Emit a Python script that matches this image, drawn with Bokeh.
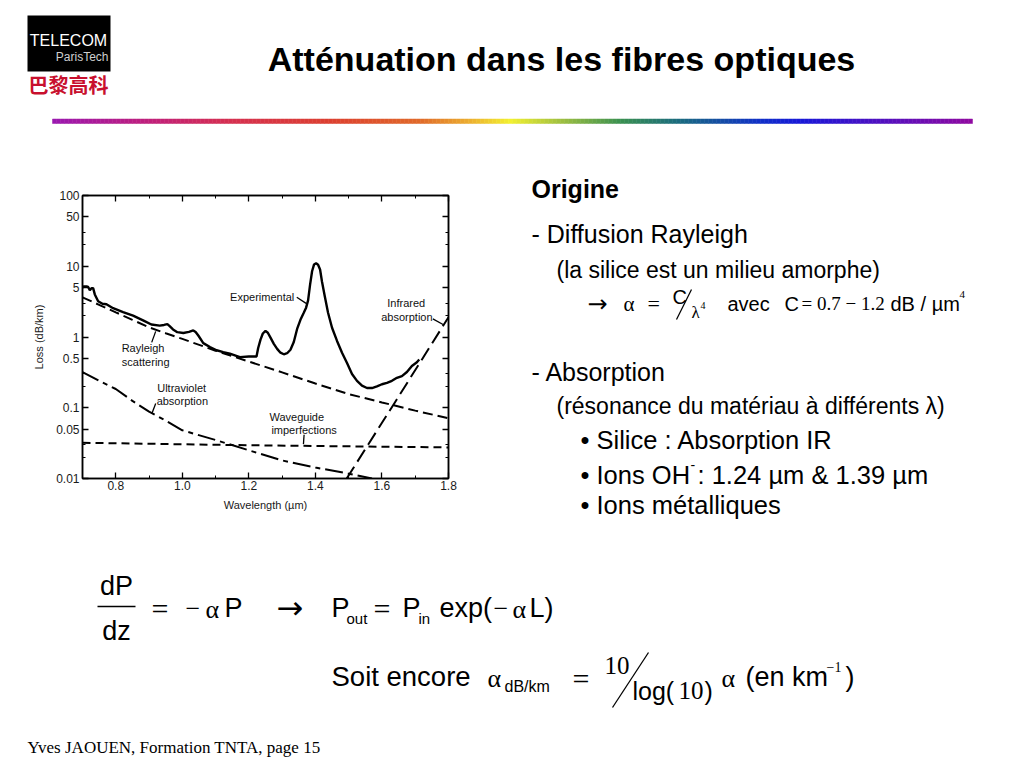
from bokeh.plotting import figure
from bokeh.layouts import column, row
from bokeh.models import (Range1d, FixedTicker, LogAxis, LinearAxis,
                          CustomJSTickFormatter)
from bokeh.core.properties import value
from bokeh.embed import file_html
from bokeh.resources import INLINE

# ---------------- data ----------------
exp_x = [0.700, 0.705, 0.712, 0.717, 0.722, 0.727, 0.732, 0.737, 0.747, 0.760,
         0.772, 0.792, 0.822, 0.852, 0.882, 0.907, 0.932, 0.945, 0.955, 0.962,
         0.972, 0.985, 1.003, 1.020, 1.033, 1.040, 1.048, 1.063, 1.083, 1.103,
         1.123, 1.143, 1.173, 1.200, 1.223, 1.228, 1.235, 1.242, 1.250, 1.257,
         1.265, 1.275, 1.285, 1.295, 1.305, 1.315, 1.325, 1.335, 1.345, 1.355,
         1.365, 1.372, 1.378, 1.384, 1.390, 1.396, 1.402, 1.408, 1.414, 1.420,
         1.428, 1.438, 1.450, 1.465, 1.480, 1.495, 1.510, 1.525, 1.540, 1.555,
         1.570, 1.585, 1.600, 1.615, 1.630, 1.645, 1.660, 1.675, 1.690, 1.705,
         1.712]
exp_y = [5.0, 5.2, 5.2, 5.1, 4.6, 4.9, 4.9, 4.0, 3.2, 2.95,
         2.9, 2.55, 2.25, 2.0, 1.72, 1.5, 1.45, 1.48, 1.52, 1.42,
         1.28, 1.17, 1.14, 1.18, 1.24, 1.18, 1.05, 0.82, 0.72, 0.65,
         0.61, 0.58, 0.52, 0.53, 0.53, 0.70, 0.92, 1.12, 1.22, 1.15,
         0.98, 0.80, 0.68, 0.60, 0.57, 0.59, 0.66, 0.85, 1.3, 1.75,
         2.2, 2.6, 3.3, 5.5, 8.5, 10.6, 11.0, 10.5, 9.0, 6.0,
         3.8, 2.2, 1.35, 0.88, 0.60, 0.43, 0.30, 0.24, 0.205, 0.19,
         0.19, 0.20, 0.215, 0.225, 0.24, 0.265, 0.28, 0.32, 0.39, 0.44,
         0.48]

ray_x = [0.70, 0.75, 0.80, 0.85, 0.90, 0.95, 1.00, 1.10, 1.20, 1.30, 1.40, 1.50, 1.60, 1.70, 1.80]
ray_y = [3.64, 2.85, 2.23, 1.75, 1.37, 1.13, 0.94, 0.64, 0.45, 0.316, 0.22, 0.156, 0.119, 0.091, 0.071]

uv_x = [0.70, 0.75, 0.80, 0.85, 0.90, 0.95, 1.00, 1.10, 1.20, 1.30, 1.40, 1.50, 1.57]
uv_y = [0.32, 0.24, 0.184, 0.125, 0.088, 0.066, 0.048, 0.035, 0.025, 0.018, 0.0143, 0.0117, 0.010]

wg_x = [0.70, 1.20, 1.80]
wg_y = [0.032, 0.0295, 0.0275]

ir_x = [1.494, 1.644, 1.80]
ir_y = [0.010, 0.13, 1.9]

x_ticks = [0.8, 1.0, 1.2, 1.4, 1.6, 1.8]
x_minor = [0.7, 0.9, 1.1, 1.3, 1.5, 1.7]
y_ticks = [0.01, 0.05, 0.1, 0.5, 1, 5, 10, 50, 100]
y_minor = [0.02, 0.03, 0.2, 0.3, 2, 3, 20, 30]

curve_labels = [("Experimental", 1.240, 3.64),
                ("Infrared", 1.673, 2.99), ("absorption", 1.675, 1.94),
                ("Rayleigh", 0.882, 0.69), ("scattering", 0.890, 0.448),
                ("Ultraviolet", 0.998, 0.19), ("absorption", 1.000, 0.123),
                ("Waveguide", 1.344, 0.0731), ("imperfections", 1.366, 0.048)]
leaders = [([1.344, 1.372], [3.64, 2.99]),
           ([1.753, 1.785], [1.80, 1.49]),
           ([0.920, 0.908], [1.20, 0.84]),
           ([0.920, 0.908], [0.115, 0.0814]),
           ([1.366, 1.364], [0.0415, 0.0306])]

title_text = "Atténuation dans les fibres optiques"
footer_text = "Yves JAOUEN, Formation TNTA, page  15"

# ---------------- layout geometry (page pixels) ----------------
W = 1008
HEAD_H = 170
MID_H = 360
FOOT_H = 230
CHART_W = 520
FL, FR, FT, FB = 82, 448, 195, 478   # chart frame edges on the page

SANS = "Liberation Sans"
SERIF = "Liberation Serif"
SYM = "DejaVu Sans"


def canvas(width, height, x0, y0):
    f = figure(width=width, height=height,
               x_range=Range1d(x0, x0 + width), y_range=Range1d(y0 + height, y0),
               x_axis_location=None, y_axis_location=None,
               output_backend="svg", toolbar_location=None, min_border=0,
               frame_align=False)
    f.grid.visible = False
    f.outline_line_color = None
    f.background_fill_color = "white"
    f.border_fill_color = "white"
    return f


def t(f, X, Y, text, size, font=SANS, style="normal", color="black", align="left"):
    f.text(x=[X], y=[Y], text=[text], text_font=value(font),
           text_font_size=f"{size}px", text_font_style=style,
           text_color=color, text_align=align, text_baseline="middle")


def seg(f, x0, y0, x1, y1, w=1.5):
    f.segment(x0=[x0], y0=[y0], x1=[x1], y1=[y1], line_color="black", line_width=w)


# ---------------- header ----------------
head = canvas(W, HEAD_H, 0, 0)
head.quad(left=[27], right=[110], top=[15], bottom=[71], fill_color="black", line_color=None)
t(head, 68, 40, "TELECOM", 16, color="white", align="center")
t(head, 108, 56, "ParisTech", 12, color="#cfcfcf", align="right")
t(head, 68, 84, "巴黎高科", 20, font="Noto Sans CJK SC", style="bold", color="#c8102e", align="center")
t(head, 561, 58, title_text, 34, style="bold", align="center")

stops = [(52, (154, 24, 176)), (150, (192, 32, 122)), (230, (213, 48, 80)),
         (330, (220, 64, 48)), (420, (224, 106, 42)), (470, (236, 176, 48)),
         (510, (242, 240, 48)), (560, (160, 192, 64)), (620, (58, 144, 80)),
         (680, (26, 106, 128)), (760, (16, 48, 200)), (800, (24, 24, 216)),
         (880, (80, 16, 192)), (972, (144, 10, 160))]


def interp(xp):
    for (a, ca), (b, cb) in zip(stops[:-1], stops[1:]):
        if a <= xp <= b:
            k = (xp - a) / (b - a)
            return "#%02x%02x%02x" % tuple(int(round(ca[i] + (cb[i] - ca[i]) * k)) for i in range(3))
    return "#%02x%02x%02x" % stops[-1][1]


rl, rr, rc = [], [], []
xx = 52
while xx < 972:
    rl.append(xx)
    rr.append(min(xx + 4, 972))
    rc.append(interp(xx + 2))
    xx += 4
head.quad(left=rl, right=rr, top=118.5, bottom=123, fill_color=rc, line_color=rc, line_width=0.5)

# ---------------- chart ----------------
p = figure(width=CHART_W, height=MID_H, y_axis_type="log",
           x_range=Range1d(0.7, 1.8), y_range=Range1d(0.01, 100),
           output_backend="svg", toolbar_location=None, frame_align=False,
           min_border_left=FL, min_border_right=CHART_W - FR,
           min_border_top=FT - HEAD_H, min_border_bottom=HEAD_H + MID_H - FB)
p.grid.visible = False
p.outline_line_color = "black"
p.outline_line_width = 1.5
p.background_fill_color = "white"
p.border_fill_color = "white"

fmt_x = CustomJSTickFormatter(code="return tick.toFixed(1);")
fmt_y = CustomJSTickFormatter(code="return String(Number(tick.toPrecision(4)));")
blank = CustomJSTickFormatter(code="return '';")


def style_axis(ax):
    ax.major_tick_in = 6
    ax.major_tick_out = 0
    ax.minor_tick_in = 3
    ax.minor_tick_out = 0
    ax.axis_line_color = "black"
    ax.axis_line_width = 1.5
    ax.major_tick_line_width = 1.3
    ax.major_label_text_font = SANS
    ax.major_label_text_font_size = "12px"
    ax.major_label_text_color = "#1a1a1a"
    ax.axis_label_text_font = SANS
    ax.axis_label_text_font_size = "11px"
    ax.axis_label_text_font_style = "normal"
    ax.axis_label_text_color = "#1a1a1a"


xa = p.xaxis[0]
xa.ticker = FixedTicker(ticks=x_ticks, minor_ticks=x_minor)
xa.formatter = fmt_x
xa.axis_label = "Wavelength (µm)"
style_axis(xa)
xa.major_label_standoff = 2
xa.axis_label_standoff = 6

ya = p.yaxis[0]
ya.ticker = FixedTicker(ticks=y_ticks, minor_ticks=y_minor)
ya.formatter = fmt_y
ya.axis_label = "Loss (dB/km)"
style_axis(ya)
ya.major_label_standoff = 3
ya.axis_label_standoff = 8

top_ax = LinearAxis(ticker=FixedTicker(ticks=x_ticks, minor_ticks=x_minor), formatter=blank)
style_axis(top_ax)
p.add_layout(top_ax, "above")
right_ax = LogAxis(ticker=FixedTicker(ticks=y_ticks, minor_ticks=y_minor), formatter=blank)
style_axis(right_ax)
p.add_layout(right_ax, "right")

p.line(exp_x, exp_y, line_color="black", line_width=2.4)
p.line(ray_x, ray_y, line_color="black", line_width=2, line_dash="10 5")
p.line(uv_x, uv_y, line_color="black", line_width=2, line_dash="18 5 5 5")
p.line(wg_x, wg_y, line_color="black", line_width=2, line_dash="8 5")
p.line(ir_x, ir_y, line_color="black", line_width=2, line_dash="14 6")
for lx, ly in leaders:
    p.line(lx, ly, line_color="black", line_width=1.3)
p.text(x=[c[1] for c in curve_labels], y=[c[2] for c in curve_labels],
       text=[c[0] for c in curve_labels], text_font=value(SANS),
       text_font_size="11px", text_align="center", text_baseline="middle",
       text_color="#111111")

# ---------------- right column text ----------------
r = canvas(W - CHART_W, MID_H, CHART_W, HEAD_H)
t(r, 531, 188, "Origine", 25, style="bold")
t(r, 531, 233, "- Diffusion Rayleigh", 25)
t(r, 556, 269, "(la silice est un milieu amorphe)", 23)
t(r, 587, 303, "→", 24, font=SYM)
t(r, 623, 303, "α", 21, font=SERIF)
t(r, 647, 303, "=", 22, font=SERIF)
t(r, 672, 296, "C", 20)
seg(r, 691, 289, 676, 319, 1.2)
t(r, 691, 312, "λ", 17, font=SERIF)
t(r, 700, 305, "4", 10, font=SERIF)
t(r, 727, 303, "avec", 20)
t(r, 784, 303, "C", 20)
t(r, 801, 303, "= 0.7 − 1.2", 19, font=SERIF)
t(r, 890, 303, "dB / µm", 20)
t(r, 959, 294, "4", 11, font=SERIF)
t(r, 531, 371, "- Absorption", 25)
t(r, 556, 405, "(résonance du matériau à différents λ)", 23)
t(r, 580, 439, "• Silice : Absorption IR", 25.5)
t(r, 580, 474, "• Ions OH", 25.5)
t(r, 690, 464, "-", 14)
t(r, 697, 474, " : 1.24 µm & 1.39 µm", 25.5)
t(r, 580, 504, "• Ions métalliques", 25.5)

# ---------------- equations + footer ----------------
ft = canvas(W, FOOT_H, 0, HEAD_H + MID_H)
t(ft, 116, 585, "dP", 27, align="center")
seg(ft, 97, 606, 135, 606, 1.5)
t(ft, 116, 630, "dz", 27, align="center")
t(ft, 151, 608, "=", 30, font=SERIF)
t(ft, 185, 608, "−", 26, font=SERIF)
t(ft, 205, 609, "α", 26, font=SERIF)
t(ft, 224, 607, "P", 27)
t(ft, 276, 607, "→", 32, font=SYM)
t(ft, 331, 607, "P", 27)
t(ft, 346, 618, "out", 15)
t(ft, 373, 608, "=", 30, font=SERIF)
t(ft, 402, 607, "P", 27)
t(ft, 418, 618, "in", 15)
t(ft, 439, 607, "exp(", 27)
t(ft, 493, 608, "−", 26, font=SERIF)
t(ft, 512, 609, "α", 26, font=SERIF)
t(ft, 529, 607, "L)", 27)

t(ft, 331, 676, "Soit encore", 27.5)
t(ft, 487, 678, "α", 26, font=SERIF)
t(ft, 504, 686, "dB/km", 16)
t(ft, 572, 678, "=", 30, font=SERIF)
t(ft, 604, 665, "10", 25, font=SERIF)
seg(ft, 648, 652, 612, 707, 1.3)
t(ft, 632, 690, "log(", 25)
t(ft, 678, 690, "10", 25, font=SERIF)
t(ft, 704, 690, ")", 25)
t(ft, 721, 678, "α", 26, font=SERIF)
t(ft, 745, 676, "(en km", 27)
t(ft, 826, 666, "−1", 14, font=SERIF)
t(ft, 845, 676, ")", 27)

t(ft, 27, 747, footer_text, 17, font=SERIF)

layout = column(head, row(p, r), ft)
open("out.html", "w").write(file_html(layout, INLINE))
